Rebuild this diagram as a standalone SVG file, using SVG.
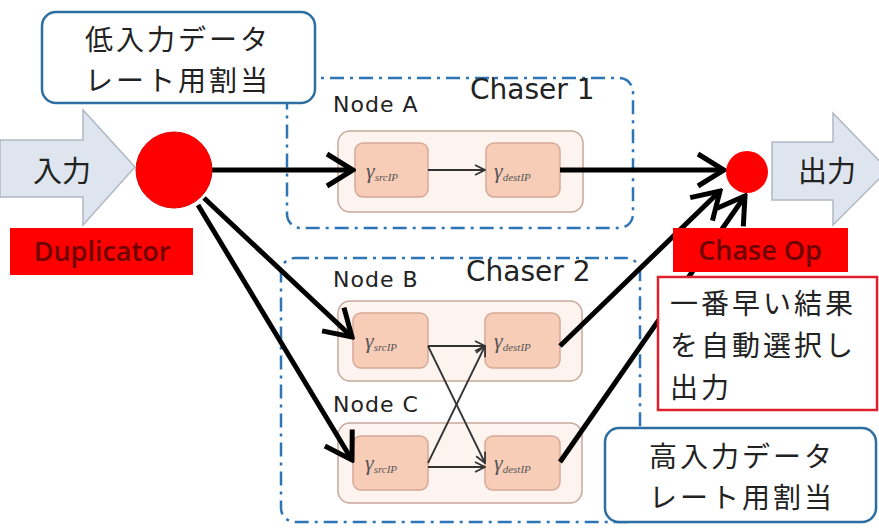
<svg xmlns="http://www.w3.org/2000/svg" width="879" height="531" viewBox="0 0 879 531">
  <style>
    .jp { font-family: "Noto Sans CJK JP", "Noto Sans", sans-serif; fill: #222; }
    .note { font-family: "Noto Sans CJK JP", "Noto Sans", sans-serif; fill: #222; font-size: 28px; letter-spacing: 3px; }
    .lbl { font-family: "DejaVu Sans", "Liberation Sans", sans-serif; fill: #222; }
    .tag { font-family: "Open Sans", "DejaVu Sans", sans-serif; font-weight: 600; fill: #6e0000; }
    .chaser { fill: none; stroke: #2e75b6; stroke-width: 2.5; stroke-dasharray: 14 6 3 6; }
    .callout { fill: #ffffff; stroke: #2e6fa3; stroke-width: 2.5; }
    .node { fill: #fdf4f0; stroke: #c9a89c; stroke-width: 1.5; }
    .op { fill: #f8cdb8; stroke: #d6a896; stroke-width: 1.5; }
    .gam { font-family: "Liberation Serif", serif; font-style: italic; fill: #555; }
    .thick { stroke: #000; stroke-width: 5; fill: none; marker-end: url(#big); }
    .thin { stroke: #333; stroke-width: 1.8; fill: none; marker-end: url(#small); }
    .block { fill: #dfe5ee; stroke: #b0b8c4; stroke-width: 1.5; }
  </style>
  <defs>
    <marker id="big" viewBox="0 0 32 38" refX="29" refY="19" markerWidth="32" markerHeight="38" markerUnits="userSpaceOnUse" orient="auto">
      <path d="M3,3 L29,19 L3,35" fill="none" stroke="#000" stroke-width="5"/>
    </marker>
    <marker id="small" viewBox="0 0 12 12" refX="11" refY="6" markerWidth="12" markerHeight="12" markerUnits="userSpaceOnUse" orient="auto">
      <path d="M1,1 L11,6 L1,11" fill="none" stroke="#333" stroke-width="1.8"/>
    </marker>
  </defs>

  <rect width="879" height="531" fill="#ffffff"/>

  <!-- chaser groupings -->
  <g id="chaser1">
    <rect class="chaser" x="287" y="78" width="346" height="150" rx="14"/>
    <text class="lbl" x="470" y="99" font-size="28">Chaser 1</text>
  </g>
  <g id="chaser2">
    <rect class="chaser" x="281" y="258" width="359" height="264" rx="14"/>
    <text class="lbl" x="466" y="281" font-size="28">Chaser 2</text>
  </g>

  <!-- input / output block arrows -->
  <g id="input">
    <polygon class="block" points="0,140 83,140 83,110 135,167 83,225 83,197 0,197"/>
    <text class="jp" x="62" y="182" font-size="29" text-anchor="middle">入力</text>
  </g>
  <g id="output">
    <polygon class="block" points="772,142 833,142 833,113 888,170 833,225 833,200 772,200"/>
    <text class="jp" x="827" y="182" font-size="29" text-anchor="middle">出力</text>
  </g>

  <!-- node A -->
  <g id="nodeA">
    <text class="lbl" x="333" y="112" font-size="22" letter-spacing="1">Node A</text>
    <rect class="node" x="338" y="131" width="245" height="81" rx="12"/>
    <rect class="op" x="355" y="143" width="73" height="54" rx="8"/>
    <text class="gam" x="366" y="178" font-size="22">γ<tspan font-size="11" dy="3">srcIP</tspan></text>
    <rect class="op" x="486" y="143" width="74" height="54" rx="8"/>
    <text class="gam" x="494" y="178" font-size="22">γ<tspan font-size="11" dy="3">destIP</tspan></text>
  </g>

  <!-- node B -->
  <g id="nodeB">
    <text class="lbl" x="333" y="287" font-size="22" letter-spacing="1">Node B</text>
    <rect class="node" x="338" y="301" width="244" height="80" rx="12"/>
    <rect class="op" x="353" y="313" width="75" height="55" rx="8"/>
    <text class="gam" x="365" y="348" font-size="22">γ<tspan font-size="11" dy="3">srcIP</tspan></text>
    <rect class="op" x="485" y="313" width="75" height="55" rx="8"/>
    <text class="gam" x="494" y="348" font-size="22">γ<tspan font-size="11" dy="3">destIP</tspan></text>
  </g>

  <!-- node C -->
  <g id="nodeC">
    <text class="lbl" x="333" y="412" font-size="22" letter-spacing="1">Node C</text>
    <rect class="node" x="338" y="423" width="244" height="80" rx="12"/>
    <rect class="op" x="353" y="436" width="75" height="54" rx="8"/>
    <text class="gam" x="365" y="470" font-size="22">γ<tspan font-size="11" dy="3">srcIP</tspan></text>
    <rect class="op" x="485" y="436" width="75" height="54" rx="8"/>
    <text class="gam" x="494" y="470" font-size="22">γ<tspan font-size="11" dy="3">destIP</tspan></text>
  </g>

  <!-- connectors -->
  <g id="connectors">
    <line class="thick" x1="212" y1="170" x2="353" y2="170"/>
    <line class="thick" x1="560" y1="170" x2="724" y2="170"/>
    <line class="thick" x1="204" y1="198" x2="352" y2="337"/>
    <line class="thick" x1="198" y1="205" x2="352" y2="460"/>
    <line class="thick" x1="560" y1="346" x2="720" y2="191"/>
    <line class="thick" x1="560" y1="462" x2="745" y2="196"/>
    <line class="thin" x1="428" y1="346" x2="485" y2="346"/>
    <line class="thin" x1="428" y1="346" x2="485" y2="463"/>
    <line class="thin" x1="428" y1="463" x2="485" y2="346"/>
    <line class="thin" x1="428" y1="467" x2="485" y2="467"/>
    <line class="thin" x1="428" y1="170" x2="485" y2="170"/>
  </g>

  <!-- duplicator -->
  <g id="duplicator">
    <circle cx="174" cy="170" r="38" fill="#ff0000" stroke="#e00000" stroke-width="1"/>
    <rect x="10" y="228" width="183" height="47" fill="#ff0000"/>
    <text class="tag" x="102" y="261" font-size="27" text-anchor="middle">Duplicator</text>
  </g>

  <!-- chase op -->
  <g id="chaseop">
    <circle cx="747" cy="172" r="21" fill="#ff0000"/>
    <rect x="673" y="228" width="175" height="44" fill="#ff0000"/>
    <text class="tag" x="760" y="260" font-size="27" text-anchor="middle">Chase Op</text>
  </g>

  <!-- note boxes -->
  <g id="low-rate-note">
    <rect class="callout" x="42" y="12" width="273" height="91" rx="14"/>
    <text class="note" x="178" y="50" text-anchor="middle">低入力データ</text>
    <text class="note" x="178" y="91" text-anchor="middle">レート用割当</text>
  </g>
  <g id="select-note">
    <rect x="658" y="277" width="219" height="133" fill="#ffffff" stroke="#e0202a" stroke-width="2.5"/>
    <text class="note" x="670" y="314" font-size="29px">一番早い結果</text>
    <text class="note" x="670" y="356" font-size="29px">を自動選択し</text>
    <text class="note" x="670" y="398" font-size="29px">出力</text>
  </g>
  <g id="high-rate-note">
    <rect class="callout" x="605" y="428" width="271" height="94" rx="14"/>
    <text class="note" x="742" y="467" text-anchor="middle">高入力データ</text>
    <text class="note" x="742" y="508" text-anchor="middle">レート用割当</text>
  </g>
</svg>
